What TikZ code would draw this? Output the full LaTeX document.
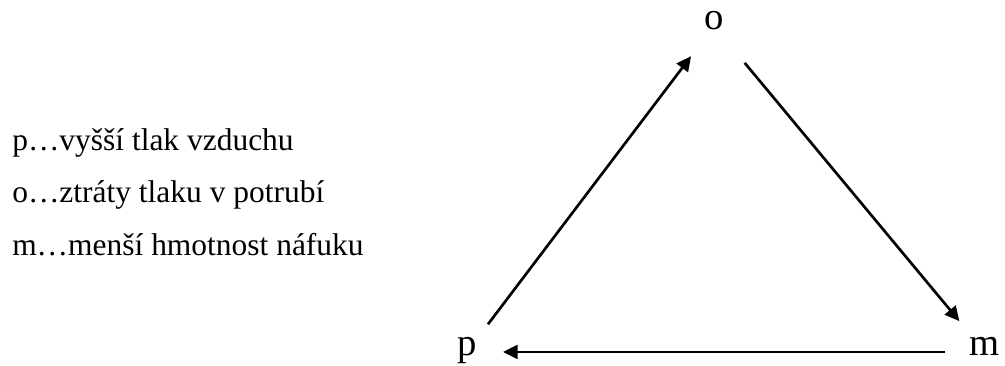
\documentclass[tikz,border=0pt]{standalone}
\usepackage{fontspec}
\setmainfont{Liberation Serif}
\usetikzlibrary{arrows.meta}

\begin{document}
\begin{tikzpicture}[x=0.75pt, y=-0.75pt,
      vx/.style={anchor=base, inner sep=0pt, text height=1ex, text depth=0pt,
                 font=\fontsize{29}{34}\selectfont},
      leg/.style={anchor=base west, inner sep=0pt, font=\fontsize{23.6}{28}\selectfont},
      arr/.style={-{Triangle[length=11pt, width=10.5pt]}, line width=2pt}]
    \useasboundingbox (0,0) rectangle (1005,365);
    % legend
    \node[leg] (lp) at (12,150) {p…vyšší tlak vzduchu};
    \node[leg] (lo) at (12,202) {o…ztráty tlaku v potrubí};
    \node[leg] (lm) at (12,255) {m…menší hmotnost náfuku};
    % triangle
    \node[vx] (p) at (467,355) {p};
    \node[vx] (o) at (714,29)  {o};
    \node[vx] (m) at (985,355) {m};
    \draw[arr, shorten <=26pt, shorten >=28.5pt] (p.center) -- (o.center);
    \draw[arr, shorten <=36pt, shorten >=30pt]   (o.center) -- (m.center);
    \draw[arr, shorten <=30pt, shorten >=27pt]   (m.center) -- (p.center);
  \end{tikzpicture}
\end{document}
